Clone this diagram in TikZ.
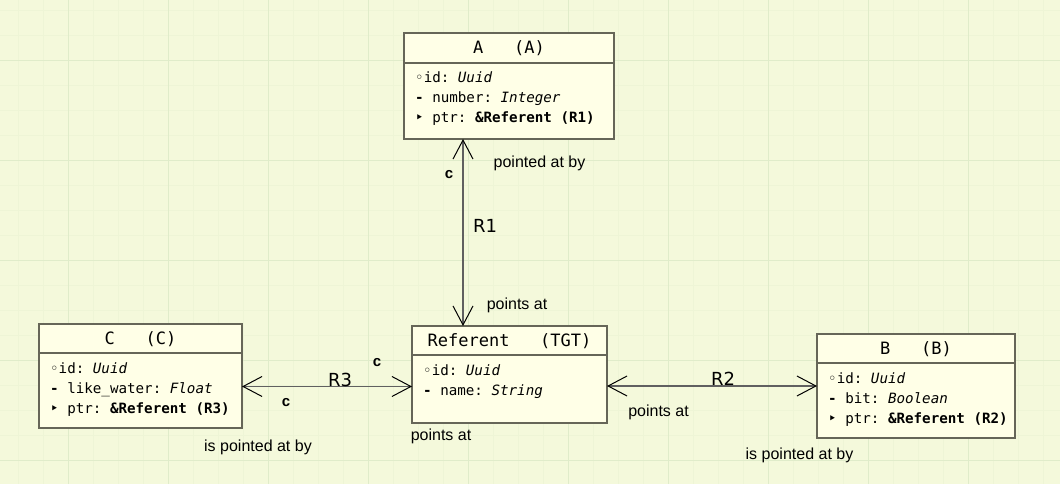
\documentclass[tikz,border=0pt]{standalone}
\usepackage{fontspec}
\setmainfont{Liberation Sans}
\setmonofont{DejaVu Sans Mono}
\newfontfamily\relfont{DejaVu Sans}
\usetikzlibrary{arrows.meta}
\definecolor{paper}{RGB}{244,249,219}
\definecolor{gridminor}{RGB}{238,245,214}
\definecolor{gridmajor}{RGB}{224,236,202}
\definecolor{clsfill}{RGB}{255,255,231}
\definecolor{clsedge}{RGB}{102,102,88}
\definecolor{relline}{RGB}{96,96,96}
\tikzset{
  cls/.style      = { draw=clsedge, line width=1.8pt, fill=clsfill, inner sep=0pt, outer sep=0pt },
  clsline/.style  = { draw=clsedge, line width=1.8pt },
  clstitle/.style = { anchor=base, inner sep=0pt, font=\ttfamily\fontsize{17}{20}\selectfont },
  attr/.style     = { anchor=base west, inner sep=0pt, font=\ttfamily\fontsize{14.2}{20}\selectfont },
  rel/.style      = { draw=relline, line width=1.6pt,
                      >={Straight Barb[length=19pt, width=20pt, line width=1pt, color=black]}, <-> },
  phrase/.style   = { anchor=base, inner sep=0pt, font=\fontsize{16}{18}\selectfont },
  cond/.style     = { anchor=base, inner sep=0pt, font=\bfseries\fontsize{15}{17}\selectfont },
  relname/.style  = { anchor=base, inner sep=0pt, font=\relfont\fontsize{18}{20}\selectfont }
}

\begin{document}
\begin{tikzpicture}[x=1pt, y=1pt]
  \useasboundingbox (0,0) rectangle (1060,484);

  % Paper and grid
  \fill[paper] (0,0) rectangle (1060,484);
  \begin{scope}
    \clip (0,0) rectangle (1060,484);
    \draw[gridminor, line width=0.6pt, xshift=18.3pt, yshift=24pt, step=25pt] (-25,-25) grid (1050,475);
    \draw[gridmajor, line width=0.8pt, xshift=68.3pt, yshift=24pt, step=100pt] (-100,-100) grid (1000,500);
  \end{scope}

  % Classes
  \node[cls, minimum width=210pt, minimum height=106pt] (A) at (509,398) {};
  \draw[clsline] ([yshift=-30pt]A.north west) -- ([yshift=-30pt]A.north east);
  \node[clstitle] (A-title) at ([yshift=-21pt]A.north) {A~~~(A)};
  \node[attr] (A-id)  at ([xshift=11pt, yshift=-50pt]A.north west) {◦id: \textit{Uuid}};
  \node[attr] (A-num) at ([xshift=11pt, yshift=-70pt]A.north west) {\textbf{-} number: \textit{Integer}};
  \node[attr] (A-ptr) at ([xshift=11pt, yshift=-90pt]A.north west) {‣ ptr: \textbf{\&Referent (R1)}};

  \node[cls, minimum width=203pt, minimum height=104pt] (C) at (140.5,108) {};
  \draw[clsline] ([yshift=-29pt]C.north west) -- ([yshift=-29pt]C.north east);
  \node[clstitle] (C-title) at ([yshift=-21pt]C.north) {C~~~(C)};
  \node[attr] (C-id)    at ([xshift=11pt, yshift=-49.5pt]C.north west) {◦id: \textit{Uuid}};
  \node[attr] (C-water) at ([xshift=11pt, yshift=-69.5pt]C.north west) {\textbf{-} like\_water: \textit{Float}};
  \node[attr] (C-ptr)   at ([xshift=11pt, yshift=-89.5pt]C.north west) {‣ ptr: \textbf{\&Referent (R3)}};

  \node[cls, minimum width=195pt, minimum height=97pt] (Ref) at (509.5,109.5) {};
  \draw[clsline] ([yshift=-29pt]Ref.north west) -- ([yshift=-29pt]Ref.north east);
  \node[clstitle] (Ref-title) at ([yshift=-21pt]Ref.north) {Referent~~~(TGT)};
  \node[attr] (Ref-id)   at ([xshift=11pt, yshift=-49.5pt]Ref.north west) {◦id: \textit{Uuid}};
  \node[attr] (Ref-name) at ([xshift=11pt, yshift=-69.5pt]Ref.north west) {\textbf{-} name: \textit{String}};

  \node[cls, minimum width=198pt, minimum height=104pt] (B) at (916,98) {};
  \draw[clsline] ([yshift=-29pt]B.north west) -- ([yshift=-29pt]B.north east);
  \node[clstitle] (B-title) at ([yshift=-21pt]B.north) {B~~~(B)};
  \node[attr] (B-id)  at ([xshift=11pt, yshift=-49.5pt]B.north west) {◦id: \textit{Uuid}};
  \node[attr] (B-bit) at ([xshift=11pt, yshift=-69.5pt]B.north west) {\textbf{-} bit: \textit{Boolean}};
  \node[attr] (B-ptr) at ([xshift=11pt, yshift=-89.5pt]B.north west) {‣ ptr: \textbf{\&Referent (R2)}};

  % Relationships
  \draw[rel] ([xshift=-46pt]A.south) -- ([xshift=-46.5pt]Ref.north);
  \draw[rel] ([yshift=-10.5pt]C.east) -- ([yshift=-12pt]Ref.west);
  \draw[rel] ([yshift=-11.5pt]Ref.east) -- (B.west);

  % R1 labels
  \node[cond]    (R1-c)    at (449,305)   {c};
  \node[phrase]  (R1-by)   at (539.5,316.7) {pointed at by};
  \node[relname] (R1-name) at (485,251)   {R1};
  \node[phrase]  (R1-at)   at (517,174)   {points at};

  % R3 labels
  \node[relname] (R3-name) at (340,97.3)  {R3};
  \node[cond]    (R3-c1)   at (377,117.3) {c};
  \node[cond]    (R3-c2)   at (286,77.3)  {c};
  \node[phrase]  (R3-by)   at (258,32)    {is pointed at by};
  \node[phrase]  (R3-at)   at (441,43)    {points at};

  % R2 labels
  \node[relname] (R2-name) at (723,98.3)  {R2};
  \node[phrase]  (R2-at)   at (658.5,67.3) {points at};
  \node[phrase]  (R2-by)   at (799.5,24.7) {is pointed at by};
\end{tikzpicture}
\end{document}
